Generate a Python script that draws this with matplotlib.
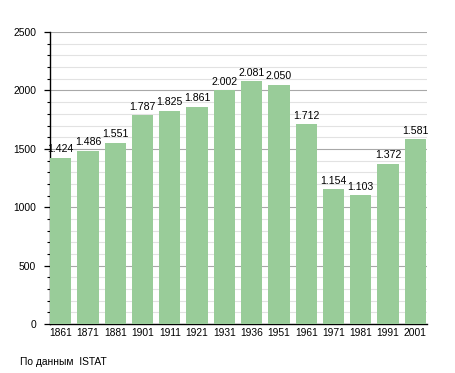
import matplotlib
matplotlib.use("Agg")
import matplotlib.pyplot as plt
from matplotlib.ticker import MultipleLocator

plt.rcParams['font.family'] = ['Liberation Sans', 'DejaVu Sans']

years = ["1861", "1871", "1881", "1901", "1911", "1921", "1931", "1936", "1951", "1961", "1971", "1981", "1991", "2001"]
population = [1424, 1486, 1551, 1787, 1825, 1861, 2002, 2081, 2050, 1712, 1154, 1103, 1372, 1581]
labels = ["1.424", "1.486", "1.551", "1.787", "1.825", "1.861", "2.002", "2.081", "2.050", "1.712", "1.154", "1.103", "1.372", "1.581"]

fig = plt.figure(figsize=(4.55, 3.73), dpi=100)
ax = fig.add_axes([0.110, 0.131, 0.828, 0.783])

x = list(range(len(years)))
ax.bar(x, population, width=0.78, color="#99cc99", zorder=3)
for xi, v, lab in zip(x, population, labels):
    ax.text(xi, v + 30, lab, ha="center", va="bottom", fontsize=7.6, color="black", zorder=4)

ax.set_xlim(-0.39, 13.42)
ax.set_ylim(0, 2500)
ax.yaxis.set_major_locator(MultipleLocator(500))
ax.yaxis.set_minor_locator(MultipleLocator(100))
ax.grid(axis="y", which="major", color="#a8a8a8", linewidth=0.8, zorder=0)
ax.grid(axis="y", which="minor", color="#e2e2e2", linewidth=0.8, zorder=0)
ax.set_xticks(x)
ax.set_xticklabels(years)
ax.tick_params(axis="x", length=0, labelsize=7.4, pad=3)
ax.tick_params(axis="y", which="major", length=4, width=0.9, labelsize=7.4, direction="out", pad=6)
ax.tick_params(axis="y", which="minor", length=2, width=0.8, direction="out")
for s in ["top", "right"]:
    ax.spines[s].set_visible(False)
ax.spines["left"].set_linewidth(1.0)
ax.spines["bottom"].set_linewidth(1.0)

fig.text(20 / 455, 1 - 362 / 373, "По данным  ISTAT", fontsize=7.4, va="center", ha="left")

fig.savefig("out.png", dpi=100)
